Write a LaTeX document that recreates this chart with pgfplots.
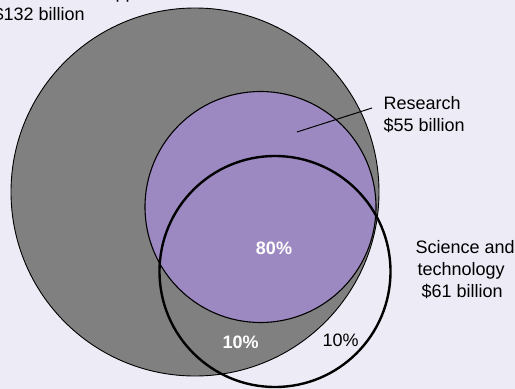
\documentclass[border=0pt]{standalone}
\usepackage{fontspec}
\setmainfont{Liberation Sans}
\usepackage{pgfplots}
\pgfplotsset{compat=1.18}
\definecolor{bg}{RGB}{237,236,246}
\definecolor{greyc}{RGB}{128,128,128}
\definecolor{purp}{RGB}{157,137,193}
\pgfplotsset{venn/.style={at={(0,0)}, anchor=south west, width=515bp, height=389bp, scale only axis,
  xmin=0, xmax=515, ymin=0, ymax=389, y dir=reverse, hide axis, clip=false}}
\begin{document}
\begin{tikzpicture}
\path[use as bounding box] (0,0) rectangle (515bp,389bp);
\fill[bg] (0,0) rectangle (515bp,389bp);
\clip (0,0) rectangle (515bp,389bp);
\begin{axis}[venn]
% Total federal support: centre (195,192), radius 184
\addplot[only marks, mark=*, mark size=184bp, mark options={fill=greyc, draw=black, line width=0.9bp}] coordinates {(195,192)};
% Research: centre (260.5,207), radius 115.5
\addplot[only marks, mark=*, mark size=115.5bp, mark options={fill=purp, draw=black, line width=1.1bp}] coordinates {(260.5,207)};
% Science and technology: centre (275,271.5), radius 115.5
\addplot[only marks, mark=o, mark size=115.5bp, mark options={draw=black, line width=2.4bp}] coordinates {(275,271.5)};
\end{axis}
\begin{axis}[venn]
% leader line
\addplot[black, line width=1bp] coordinates {(297,132) (372,108)};
\node[anchor=base west, font=\fontsize{18bp}{22bp}\selectfont] at (axis cs:-10,-1) {Total federal support};
\node[anchor=base west, font=\fontsize{18bp}{22bp}\selectfont] at (axis cs:-10,21) {\$132 billion};
\node[anchor=base west, font=\fontsize{18bp}{22bp}\selectfont] at (axis cs:380,110) {Research};
\node[anchor=base west, font=\fontsize{18bp}{22bp}\selectfont] at (axis cs:380,131) {\$55 billion};
\node[anchor=base west, font=\fontsize{18bp}{22bp}\selectfont] at (axis cs:412,253) {Science and};
\node[anchor=base west, font=\fontsize{18bp}{22bp}\selectfont] at (axis cs:414,275) {technology};
\node[anchor=base west, font=\fontsize{18bp}{22bp}\selectfont] at (axis cs:418,297) {\$61 billion};
\node[anchor=base, text=white, font=\bfseries\fontsize{18bp}{22bp}\selectfont] at (axis cs:274,254) {80\%};
\node[anchor=base west, text=white, font=\bfseries\fontsize{18bp}{22bp}\selectfont] at (axis cs:219,348) {10\%};
\node[anchor=base west, font=\fontsize{18bp}{22bp}\selectfont] at (axis cs:319,346) {10\%};
\end{axis}
\end{tikzpicture}
\end{document}
